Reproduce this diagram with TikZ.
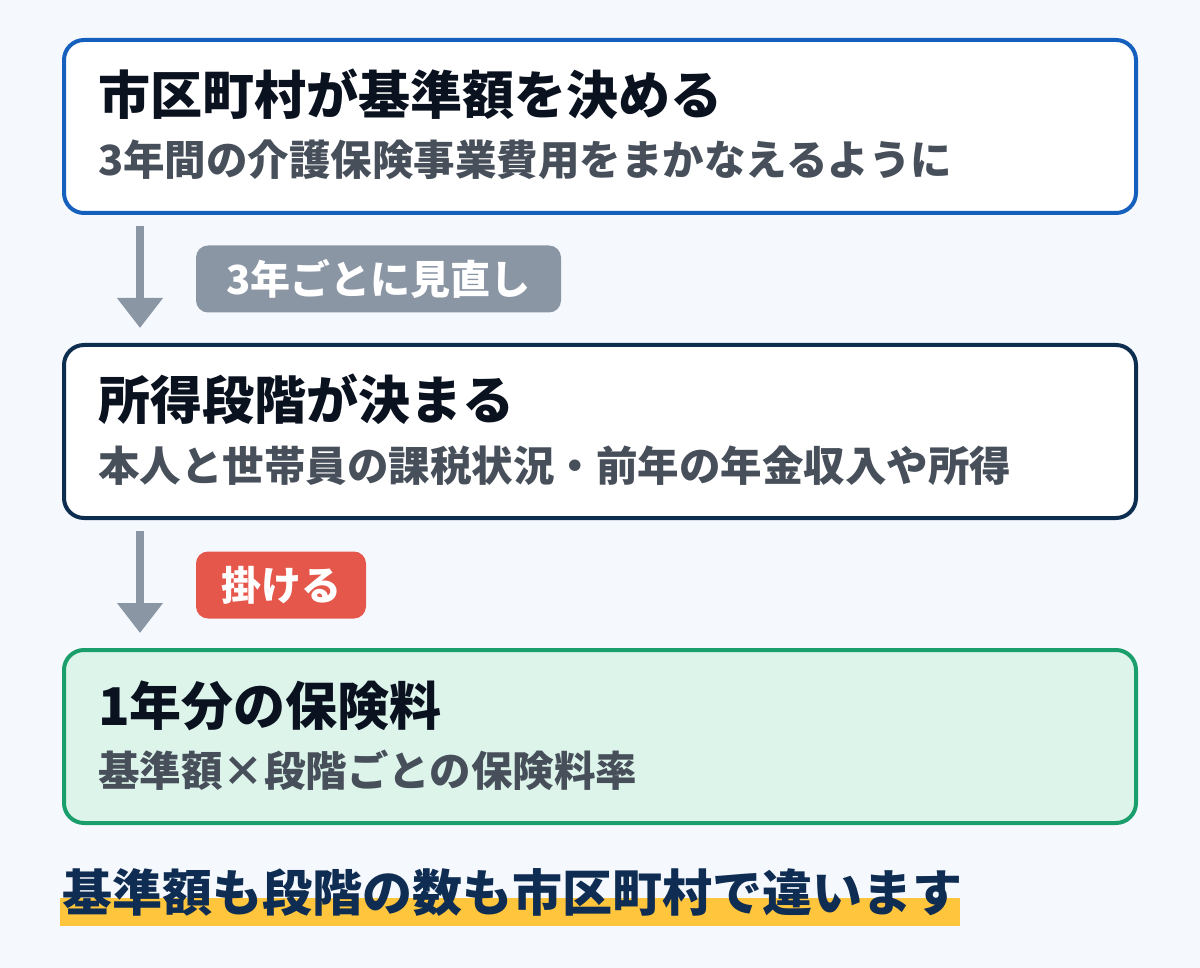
\documentclass[tikz,border=0pt]{standalone}
\usepackage{fontspec}
\setmainfont{Noto Sans CJK JP}
\usetikzlibrary{arrows.meta}
\definecolor{bg}{HTML}{F5F9FE}
\definecolor{blueb}{HTML}{1560BD}
\definecolor{navyb}{HTML}{0E2E50}
\definecolor{greenb}{HTML}{1A9E6B}
\definecolor{greenf}{HTML}{DDF4EA}
\definecolor{titlec}{HTML}{0A1220}
\definecolor{subc}{HTML}{474F5A}
\definecolor{arrc}{HTML}{8B96A5}
\definecolor{redp}{HTML}{E5574B}
\definecolor{hilite}{HTML}{FFC53D}
\definecolor{notec}{HTML}{0F2D52}
\tikzset{
  box/.style={draw, line width=4pt, rounded corners=20pt, fill=white, minimum width=1072pt, minimum height=173pt, inner sep=0pt},
  ttl/.style={anchor=base west, inner sep=0pt, text=titlec, font=\fontsize{52}{54}\selectfont\bfseries},
  sub/.style={anchor=base west, inner sep=0pt, text=subc, font=\fontsize{41.5}{44}\selectfont\bfseries},
  pill/.style={rounded corners=12pt, inner sep=0pt, minimum height=67pt, text=white, font=\fontsize{40}{42}\selectfont\bfseries},
  arr/.style={draw=arrc, line width=8pt, -{Triangle[width=44pt,length=30pt]}},
}
\begin{document}
\begin{tikzpicture}[x=1pt,y=-1pt]
\fill[bg] (0,0) rectangle (1200,968);
\useasboundingbox (0,0) rectangle (1200,968);
% boxes
\node[box, draw=blueb] (b1) at (600,126.5) {};
\node[box, draw=navyb] (b2) at (600,431.5) {};
\node[box, draw=greenb, fill=greenf] (b3) at (600,736.5) {};
% texts
\node[ttl] (t1) at (98,115) {市区町村が基準額を決める};
\node[sub] (s1) at (98,176) {3年間の介護保険事業費用をまかなえるように};
\node[ttl] (t2) at (98,420) {所得段階が決まる};
\node[sub] (s2) at (98,481) {本人と世帯員の課税状況・前年の年金収入や所得};
\node[ttl] (t3) at (98,725) {1年分の保険料};
\node[sub] (s3) at (98,786) {基準額×段階ごとの保険料率};
% arrows
\coordinate (a1s) at (140,226);
\coordinate (a1e) at (140,328);
\coordinate (a2s) at (140,531);
\coordinate (a2e) at (140,633);
\draw[arr] (a1s) -- (a1e);
\draw[arr] (a2s) -- (a2e);
% pills
\node[pill, fill=arrc, minimum width=365pt] (p1) at (378.5,279) {3年ごとに見直し};
\node[pill, fill=redp, minimum width=170pt] (p2) at (281,585) {掛ける};
% note
\fill[hilite] (60,898) rectangle (960,926);
\node[anchor=base west, inner sep=0pt, text=notec, font=\fontsize{50}{52}\selectfont\bfseries] (note) at (62,911) {基準額も段階の数も市区町村で違います};
\end{tikzpicture}
\end{document}
